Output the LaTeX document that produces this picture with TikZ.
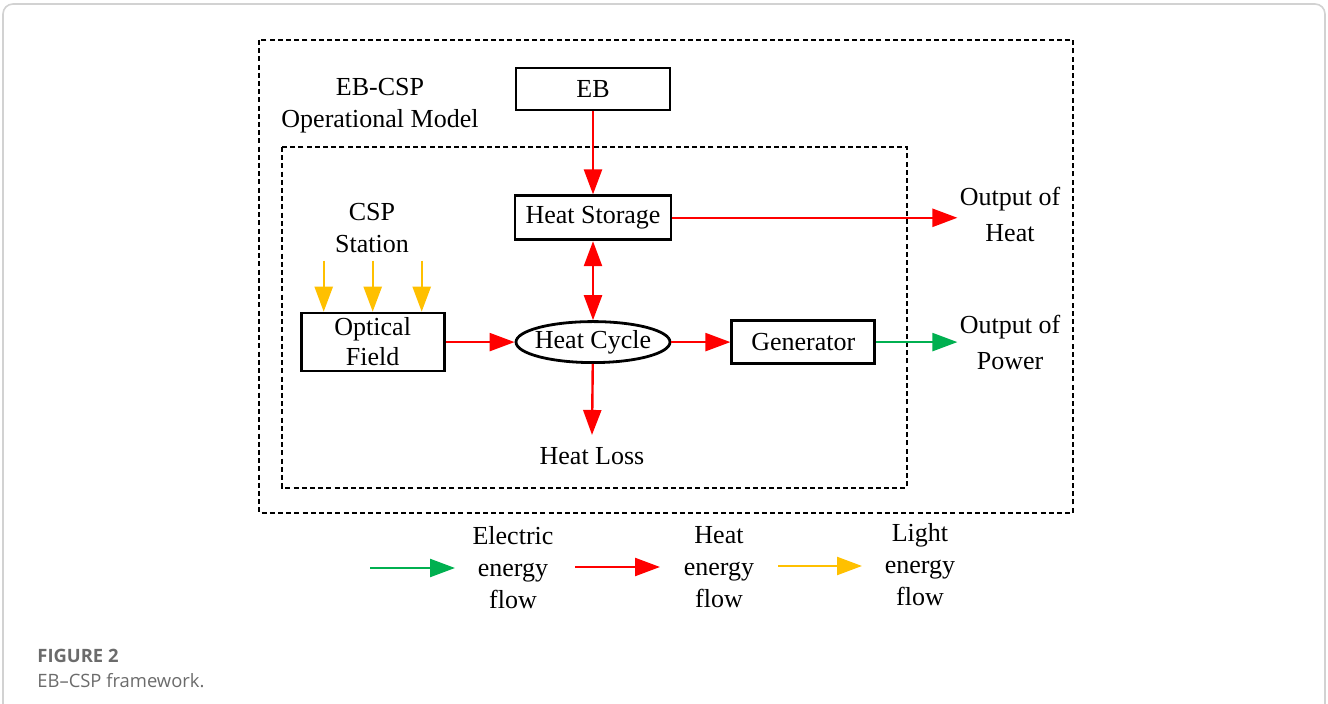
\documentclass[tikz,border=0pt]{standalone}
\usepackage{fontspec}
\setmainfont{Liberation Serif}
\newfontfamily\capfont{Open Sans}
\usetikzlibrary{arrows.meta,positioning,shapes.geometric}
\definecolor{heatred}{HTML}{FF0000}
\definecolor{elecgreen}{HTML}{00B050}
\definecolor{lightgold}{HTML}{FFC000}
\definecolor{capgray}{HTML}{6B6B6B}

\begin{document}
\begin{tikzpicture}[x=0.5pt, y=-0.5pt,
  font=\fontsize{13}{16}\selectfont,
  box/.style={draw=black, line width=1.4pt, align=center, inner sep=1pt},
  cycle/.style={ellipse, draw=black, line width=1.4pt, inner xsep=-4pt, inner ysep=-3pt,
                minimum width=77pt, minimum height=20.5pt},
  txt/.style={align=center, inner sep=1pt},
  frame/.style={dashed, dash pattern=on 2.5pt off 1.6pt, line width=1.3pt},
  tip/.style={-{Triangle[length=12.5pt, width=9pt]}},
  heat/.style={tip, draw=heatred, line width=1.2pt},
  elec/.style={tip, draw=elecgreen, line width=1.2pt},
  light/.style={tip, draw=lightgold, line width=1.2pt}]
  \useasboundingbox (0,0) rectangle (1328,704);
  \draw[gray!35, line width=0.8pt, rounded corners=5pt] (3,710) -- (3,4) -- (1325,4) -- (1325,710);
  % frames
  \draw[frame] (259,40) rectangle (1073,513);
  \draw[frame] (282,147) rectangle (907,488);
  % blocks
  \node[box, minimum width=77pt, minimum height=21pt] (eb) at (593,89) {EB};
  \node[box, below=41.5pt of eb, minimum width=78pt, minimum height=22pt] (hs) {Heat Storage};
  \node[cycle, below=39.5pt of hs] (cyc) {Heat Cycle};
  \node[box, left=34.5pt of cyc, minimum width=71.5pt, minimum height=29pt, font=\fontsize{13}{15}\selectfont] (opt) {Optical\\Field};
  \node[box, right=29.5pt of cyc, minimum width=71.5pt, minimum height=21.5pt] (gen) {Generator};
  % labels
  \node[txt] (model) at (380,106) {EB-CSP\\Operational Model};
  \node[txt] (csp) at (372,228) {CSP\\Station};
  \node[txt, font=\fontsize{13}{18}\selectfont] (outheat) at (1010,214) {Output of\\Heat};
  \node[txt, font=\fontsize{13}{18}\selectfont] (outpow) at (1010,342) {Output of\\Power};
  \node[txt] (loss) at (592,456) {Heat Loss};
  % flows
  \draw[heat] (eb) -- (hs);
  \draw[heat, {Triangle[length=12.5pt, width=9pt]}-{Triangle[length=12.5pt, width=9pt]}] (hs) -- (cyc);
  \draw[heat] (opt) -- (cyc);
  \draw[heat] (cyc) -- (gen);
  \draw[heat] (cyc) -- ([yshift=5pt]loss.north);
  \draw[heat] (hs) -- (hs -| outheat.west);
  \draw[elec] (gen) -- (gen -| outpow.west);
  \foreach \dx in {-49,0,49}
    \draw[light] ([xshift=\dx*0.5pt, yshift=25.5pt]opt.north) -- ([xshift=\dx*0.5pt]opt.north);
  % legend
  \node[txt] (lgel) at (513,568) {Electric\\energy\\flow};
  \node[txt] (lght) at (719,567) {Heat\\energy\\flow};
  \node[txt] (lglt) at (920,565) {Light\\energy\\flow};
  \coordinate (elfrom) at (370,568);
  \coordinate (elto) at (455,568);
  \coordinate (htfrom) at (575,567);
  \coordinate (htto) at (660,567);
  \coordinate (ltfrom) at (778,566);
  \coordinate (ltto) at (862,566);
  \draw[elec] (elfrom) -- (elto);
  \draw[heat] (htfrom) -- (htto);
  \draw[light] (ltfrom) -- (ltto);
  % caption
  \node[anchor=west, inner sep=0pt, text=capgray, font=\capfont\fontsize{9.2}{11}\selectfont\bfseries] (fig) at (37,656) {FIGURE 2};
  \node[anchor=west, inner sep=0pt, text=capgray, font=\capfont\fontsize{9.2}{11}\selectfont] (cap) at (37,681) {EB–CSP framework.};
\end{tikzpicture}
\end{document}
